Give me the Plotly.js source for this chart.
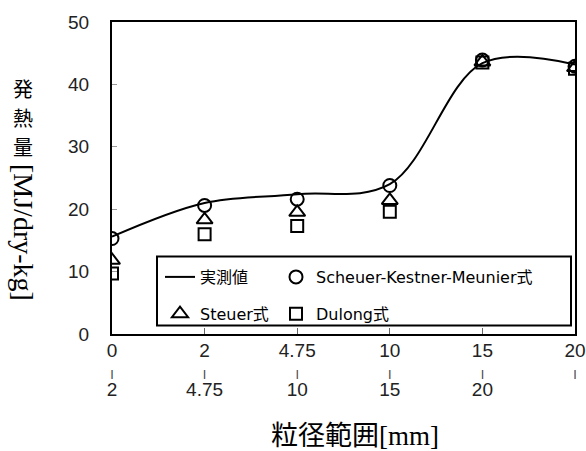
<!DOCTYPE html>
<html><head><meta charset="utf-8">
<script src="https://cdn.plot.ly/plotly-3.0.1.min.js"></script>
<style>html,body{margin:0;padding:0;background:#fff}</style>
</head><body><div id="chart" style="width:586px;height:451px"></div>
<script>
// ---- data ----
const categories = ['0-2', '2-4.75', '4.75-10', '10-15', '15-20', '20-'];
const tickTop = ['0', '2', '4.75', '10', '15', '20'];
const tickBottom = ['2', '4.75', '10', '15', '20', ''];
const measured = [15.6, 21.0, 22.4, 24.0, 43.4, 43.2];
const scheuer  = [15.3, 20.6, 21.6, 23.8, 43.9, 42.9];
const steuer   = [11.8, 18.3, 19.5, 21.4, 43.6, 42.7];
const dulong   = [9.7, 16.0, 17.3, 19.6, 43.5, 42.5];
const seriesNames = ['実測値', 'Scheuer-Kestner-Meunier式', 'Steuer式', 'Dulong式'];
const yTitleChars = ['発', '熱', '量'];
const yTitleUnit = '[MJ/dry-kg]';
const xTitle = '粒径範囲[mm]';

// ---- build ----
const tickText = tickTop.map((t, i) => {
  let s = '<span style="font-size:19px">' + t + '</span><br><b><span style="font-size:9px;color:#444">|</span></b>';
  if (tickBottom[i]) s += '<br><span style="font-size:19px">' + tickBottom[i] + '</span>';
  return s;
});

const legFont = {family: 'DejaVu Sans, "Noto Sans CJK JP", sans-serif', size: 16, color: '#000'};
const mk = (sym, size) => ({symbol: sym, size: size, color: '#000', line: {color: '#000', width: 2}});

const traces = [
  {x: categories, y: measured, name: seriesNames[0], type: 'scatter', mode: 'lines',
   line: {shape: 'spline', smoothing: 1, color: '#000', width: 2}, legend: 'legend', legendgroup: 'a'},
  {x: categories, y: steuer, name: seriesNames[2], type: 'scatter', mode: 'markers',
   marker: mk('triangle-up-open', 14), legend: 'legend', legendgroup: 'b'},
  {x: categories, y: scheuer, name: seriesNames[1], type: 'scatter', mode: 'markers',
   marker: mk('circle-open', 13), legend: 'legend2', legendgroup: 'c'},
  {x: categories, y: dulong, name: seriesNames[3], type: 'scatter', mode: 'markers',
   marker: mk('square-open', 12), legend: 'legend2', legendgroup: 'd'}
];

const pl = 112, pr = 575, pt = 22, pb = 334;
const px = v => (v - pl) / (pr - pl);
const py = v => (pb - v) / (pb - pt);

const annotations = [];
const charY = [88, 117.2, 146.4];
yTitleChars.forEach((c, i) => annotations.push({
  text: c, xref: 'paper', yref: 'paper', x: px(23), y: py(charY[i]), xanchor: 'center', yanchor: 'middle',
  showarrow: false, font: {family: '"Noto Sans CJK JP", sans-serif', size: 20, color: '#000'}
}));
annotations.push({
  text: yTitleUnit, xref: 'paper', yref: 'paper', x: px(24), y: py(232), xanchor: 'center', yanchor: 'middle',
  textangle: 90, showarrow: false, font: {family: 'Liberation Serif, serif', size: 28, color: '#000'}
});
annotations.push({
  text: xTitle, xref: 'paper', yref: 'paper', x: px(355), y: py(436), xanchor: 'center', yanchor: 'middle',
  showarrow: false, font: {family: 'Liberation Serif, "Noto Sans CJK JP", serif', size: 27, color: '#000'}
});

const legBase = {
  orientation: 'v', xanchor: 'left', yanchor: 'top', bgcolor: 'rgba(0,0,0,0)', borderwidth: 0,
  font: legFont, traceorder: 'grouped', tracegroupgap: 13
};

const layout = {
  width: 586, height: 451,
  margin: {l: 112, r: 11, t: 22, b: 117, pad: 0},
  paper_bgcolor: '#fff', plot_bgcolor: '#fff',
  showlegend: true,
  legend: Object.assign({}, legBase, {x: px(160), y: py(260)}),
  legend2: Object.assign({}, legBase, {x: px(276), y: py(260)}),
  xaxis: {
    type: 'category', range: [0, 5], tickvals: categories, ticktext: tickText,
    showline: true, mirror: true, linecolor: '#000', linewidth: 2,
    ticks: 'inside', ticklen: 6, tickcolor: '#666', tickwidth: 1,
    showgrid: false, zeroline: false, ticklabelstandoff: 3,
    tickfont: {family: 'Liberation Sans, Arial, sans-serif', size: 15, color: '#222'}
  },
  yaxis: {
    range: [0, 50], dtick: 10, tick0: 0,
    showline: true, mirror: true, linecolor: '#000', linewidth: 2,
    ticks: 'inside', ticklen: 5, tickcolor: '#999', tickwidth: 1,
    showgrid: false, zeroline: false, ticklabelstandoff: 17,
    tickfont: {family: 'Liberation Sans, Arial, sans-serif', size: 19, color: '#222'}
  },
  shapes: [{
    type: 'rect', xref: 'paper', yref: 'paper',
    x0: px(157), x1: px(571), y0: py(325.5), y1: py(256.5),
    line: {color: '#000', width: 2}, fillcolor: 'rgba(0,0,0,0)', layer: 'above'
  }],
  annotations: annotations
};

Plotly.newPlot('chart', traces, layout, {displayModeBar: false, staticPlot: true});
</script></body></html>
